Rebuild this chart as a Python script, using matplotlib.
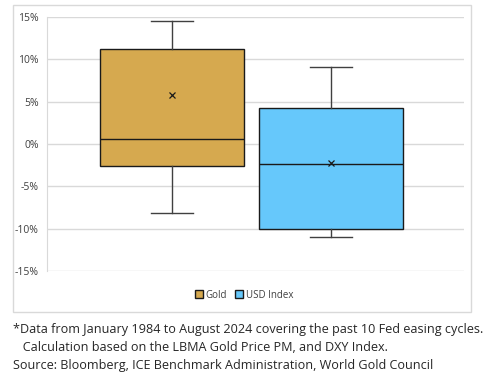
import matplotlib
matplotlib.use("Agg")
import matplotlib.pyplot as plt
from matplotlib.patches import Rectangle, Patch
from matplotlib.ticker import FuncFormatter

plt.rcParams['font.family'] = ['Open Sans', 'DejaVu Sans']

categories = ["Gold", "USD Index"]
whisker_low = [-8.2, -11.0]
q1 = [-2.6, -10.0]
median = [0.6, -2.35]
q3 = [11.2, 4.2]
whisker_high = [14.5, 9.05]
mean = [5.8, -2.3]
colors = ["#D6A94F", "#66C8FB"]
yticks = [-15, -10, -5, 0, 5, 10, 15]

fig = plt.figure(figsize=(4.96, 3.76), dpi=100)
W, H = 496, 376
ax = fig.add_axes([47 / W, 1 - 271 / H, (464 - 47) / W, (271 - 17) / H])

stats = []
for i, c in enumerate(categories):
    stats.append(dict(label=c, whislo=whisker_low[i], q1=q1[i], med=median[i],
                      q3=q3[i], whishi=whisker_high[i], mean=mean[i], fliers=[]))

bp = ax.bxp(stats, positions=[0, 1], widths=0.905, patch_artist=True,
            showmeans=True, showfliers=False,
            boxprops=dict(linewidth=1.0, edgecolor="#1a1a1a"),
            medianprops=dict(color="#1a1a1a", linewidth=1.0),
            whiskerprops=dict(color="#404040", linewidth=1.0),
            capprops=dict(color="#404040", linewidth=1.0),
            capwidths=0.265,
            meanprops=dict(marker="x", markeredgecolor="#1a1a1a", markersize=5, markeredgewidth=0.9))
for patch, col in zip(bp["boxes"], colors):
    patch.set_facecolor(col)

ax.set_xlim(-0.786, 1.836)
ax.set_ylim(-15, 15)
ax.set_yticks(yticks)
ax.yaxis.set_major_formatter(FuncFormatter(lambda v, p: f"{int(v)}%"))
ax.set_xticks([])
ax.grid(axis="y", color="#d9d9d9", linewidth=1.0)
ax.set_axisbelow(True)
for s in ["top", "right", "bottom"]:
    ax.spines[s].set_visible(False)
ax.spines["left"].set_color("#d9d9d9")
ax.tick_params(axis="y", length=0, labelsize=7.5, labelcolor="#404040", pad=6)

# outer chart frame
fig.patches.append(Rectangle((13 / W, 1 - 312 / H), (471 - 13) / W, (312 - 5) / H,
                             transform=fig.transFigure, fill=False,
                             edgecolor="#d9d9d9", linewidth=1.0))

handles = [Patch(facecolor=colors[i], edgecolor="#1a1a1a", linewidth=1.0, label=categories[i])
           for i in range(2)]
fig.legend(handles=handles, loc="center", bbox_to_anchor=(244 / W, 1 - 295 / H),
           ncol=2, frameon=False, fontsize=7, handlelength=0.8, handleheight=0.8,
           handletextpad=0.3, columnspacing=0.8, labelcolor="#404040")

foot = ("*Data from January 1984 to August 2024 covering the past 10 Fed easing cycles.\n"
        "   Calculation based on the LBMA Gold Price PM, and DXY Index.\n"
        "Source: Bloomberg, ICE Benchmark Administration, World Gold Council")
fig.text(13 / W, 1 - 323 / H, foot, ha="left", va="top", fontsize=9.1,
         color="#262626", linespacing=1.5)

fig.savefig("out.png", dpi=100)
